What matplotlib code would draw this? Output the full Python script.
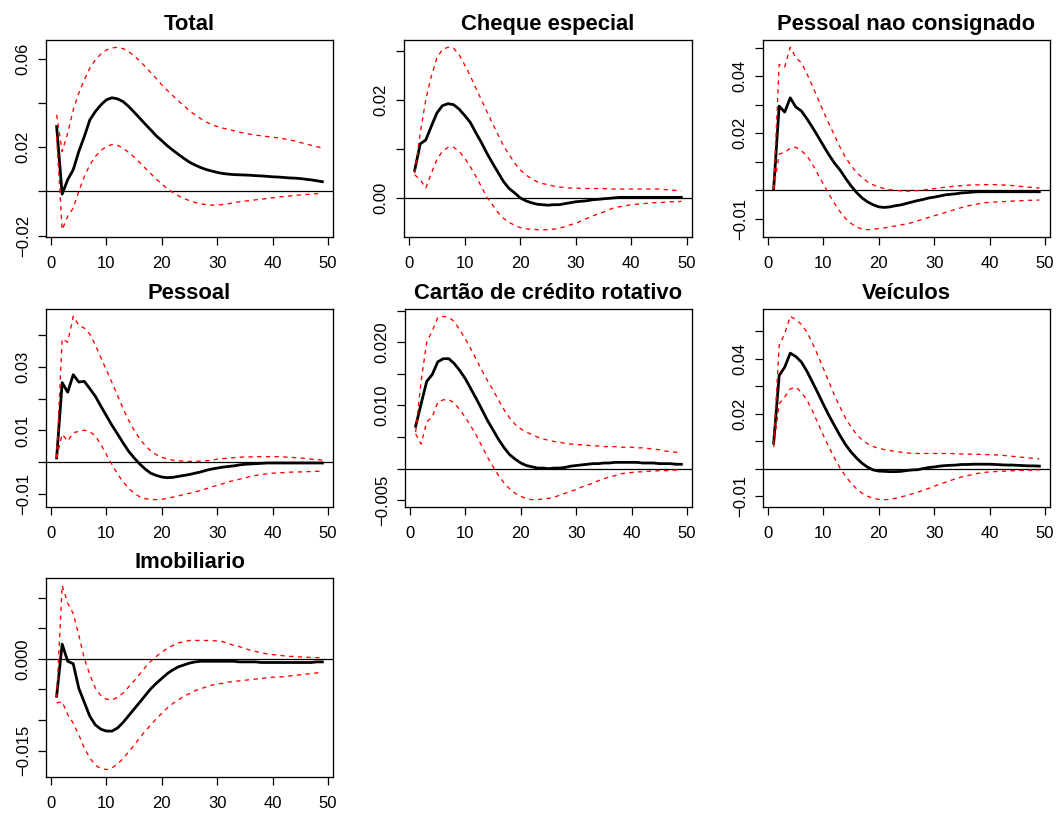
import numpy as np
import matplotlib
matplotlib.use("Agg")
import matplotlib.pyplot as plt

plt.rcParams['font.family'] = ['Liberation Sans', 'DejaVu Sans']

horizon = list(range(1, 50))

# Total
total_irf = [0.0293, -0.0012, 0.0053, 0.0098, 0.0180, 0.0248, 0.0323, 0.0361, 0.0391, 0.0414,
             0.0423, 0.0418, 0.0406, 0.0384, 0.0358, 0.0331, 0.0304, 0.0278, 0.0251, 0.0229,
             0.0206, 0.0186, 0.0167, 0.0149, 0.0132, 0.0119, 0.0108, 0.0099, 0.0092, 0.0086,
             0.0081, 0.0078, 0.0076, 0.0075, 0.0074, 0.0073, 0.0071, 0.0070, 0.0068, 0.0066,
             0.0065, 0.0063, 0.0061, 0.0060, 0.0058, 0.0055, 0.0052, 0.0048, 0.0044]
total_hi = [0.0346, 0.0180, 0.0263, 0.0368, 0.0444, 0.0504, 0.0557, 0.0594, 0.0621, 0.0639,
            0.0648, 0.0651, 0.0645, 0.0632, 0.0612, 0.0590, 0.0564, 0.0537, 0.0510, 0.0481,
            0.0456, 0.0432, 0.0409, 0.0387, 0.0364, 0.0346, 0.0329, 0.0314, 0.0302, 0.0293,
            0.0286, 0.0280, 0.0274, 0.0268, 0.0263, 0.0258, 0.0254, 0.0251, 0.0248, 0.0245,
            0.0242, 0.0238, 0.0233, 0.0228, 0.0221, 0.0215, 0.0208, 0.0202, 0.0196]
total_lo = [0.0248, -0.0173, -0.0113, -0.0075, 0.0000, 0.0068, 0.0120, 0.0158, 0.0185, 0.0203,
            0.0212, 0.0208, 0.0196, 0.0176, 0.0155, 0.0131, 0.0105, 0.0080, 0.0056, 0.0033,
            0.0012, -0.0005, -0.0020, -0.0032, -0.0042, -0.0050, -0.0056, -0.0060, -0.0062, -0.0062,
            -0.0059, -0.0056, -0.0051, -0.0047, -0.0044, -0.0041, -0.0038, -0.0035, -0.0032, -0.0029,
            -0.0026, -0.0023, -0.0021, -0.0018, -0.0016, -0.0014, -0.0012, -0.0010, -0.0009]

# Cheque especial
cheque_irf = [0.0056, 0.0110, 0.0118, 0.0146, 0.0173, 0.0188, 0.0192, 0.0190, 0.0181, 0.0168,
              0.0154, 0.0133, 0.0113, 0.0091, 0.0071, 0.0052, 0.0033, 0.0019, 0.0010, 0.0000,
              -0.0006, -0.0010, -0.0013, -0.0014, -0.0015, -0.0014, -0.0014, -0.0012, -0.0010, -0.0008,
              -0.0007, -0.0006, -0.0004, -0.0003, -0.0002, -0.0001, 0.0000, 0.0001, 0.0001, 0.0001,
              0.0001, 0.0001, 0.0001, 0.0001, 0.0001, 0.0001, 0.0001, 0.0001, 0.0001]
cheque_hi = [0.0050, 0.0132, 0.0200, 0.0248, 0.0285, 0.0303, 0.0307, 0.0305, 0.0292, 0.0271,
             0.0249, 0.0224, 0.0200, 0.0176, 0.0152, 0.0129, 0.0106, 0.0088, 0.0071, 0.0057,
             0.0047, 0.0039, 0.0033, 0.0029, 0.0027, 0.0024, 0.0022, 0.0021, 0.0020, 0.0020,
             0.0019, 0.0019, 0.0019, 0.0019, 0.0019, 0.0018, 0.0018, 0.0018, 0.0018, 0.0018,
             0.0018, 0.0018, 0.0018, 0.0018, 0.0018, 0.0017, 0.0016, 0.0015, 0.0014]
cheque_lo = [0.0047, 0.0037, 0.0020, 0.0050, 0.0078, 0.0095, 0.0103, 0.0103, 0.0095, 0.0081,
             0.0064, 0.0044, 0.0023, 0.0001, -0.0014, -0.0030, -0.0042, -0.0050, -0.0056, -0.0061,
             -0.0063, -0.0064, -0.0065, -0.0065, -0.0065, -0.0064, -0.0062, -0.0059, -0.0055, -0.0052,
             -0.0047, -0.0042, -0.0037, -0.0033, -0.0029, -0.0024, -0.0020, -0.0018, -0.0016, -0.0014,
             -0.0013, -0.0012, -0.0011, -0.0010, -0.0010, -0.0009, -0.0008, -0.0008, -0.0007]

# Pessoal nao consignado
pnc_irf = [0.0004, 0.0295, 0.0274, 0.0324, 0.0292, 0.0278, 0.0251, 0.0221, 0.0189, 0.0156,
           0.0124, 0.0095, 0.0071, 0.0042, 0.0015, -0.0008, -0.0027, -0.0041, -0.0051, -0.0058,
           -0.0060, -0.0058, -0.0054, -0.0051, -0.0046, -0.0041, -0.0036, -0.0032, -0.0027, -0.0024,
           -0.0020, -0.0016, -0.0014, -0.0012, -0.0009, -0.0008, -0.0006, -0.0005, -0.0005, -0.0005,
           -0.0005, -0.0005, -0.0005, -0.0005, -0.0005, -0.0005, -0.0005, -0.0005, -0.0005]
pnc_hi = [0.0004, 0.0441, 0.0432, 0.0501, 0.0465, 0.0447, 0.0409, 0.0366, 0.0321, 0.0276,
          0.0233, 0.0192, 0.0151, 0.0115, 0.0086, 0.0062, 0.0045, 0.0029, 0.0019, 0.0012,
          0.0006, 0.0002, 0.0000, -0.0002, -0.0003, -0.0002, -0.0001, 0.0001, 0.0004, 0.0006,
          0.0008, 0.0011, 0.0013, 0.0015, 0.0016, 0.0018, 0.0019, 0.0019, 0.0020, 0.0020,
          0.0020, 0.0019, 0.0018, 0.0017, 0.0015, 0.0013, 0.0011, 0.0010, 0.0008]
pnc_lo = [0.0004, 0.0127, 0.0133, 0.0147, 0.0151, 0.0139, 0.0121, 0.0092, 0.0056, 0.0021,
          -0.0014, -0.0046, -0.0075, -0.0099, -0.0116, -0.0129, -0.0136, -0.0138, -0.0136, -0.0134,
          -0.0132, -0.0128, -0.0125, -0.0121, -0.0118, -0.0113, -0.0107, -0.0101, -0.0095, -0.0089,
          -0.0084, -0.0078, -0.0072, -0.0066, -0.0060, -0.0055, -0.0051, -0.0047, -0.0044, -0.0042,
          -0.0041, -0.0040, -0.0039, -0.0038, -0.0037, -0.0036, -0.0035, -0.0035, -0.0034]

# Pessoal
pessoal_irf = [0.0014, 0.0250, 0.0220, 0.0275, 0.0252, 0.0254, 0.0231, 0.0207, 0.0176, 0.0146,
               0.0116, 0.0089, 0.0061, 0.0035, 0.0014, -0.0005, -0.0021, -0.0034, -0.0041, -0.0046,
               -0.0048, -0.0047, -0.0044, -0.0041, -0.0038, -0.0034, -0.0030, -0.0025, -0.0021, -0.0018,
               -0.0015, -0.0013, -0.0011, -0.0008, -0.0006, -0.0005, -0.0004, -0.0003, -0.0002, -0.0002,
               -0.0002, -0.0002, -0.0002, -0.0002, -0.0002, -0.0002, -0.0002, -0.0002, -0.0002]
pessoal_hi = [0.0014, 0.0387, 0.0377, 0.0458, 0.0430, 0.0421, 0.0402, 0.0368, 0.0328, 0.0289,
              0.0250, 0.0210, 0.0169, 0.0132, 0.0101, 0.0074, 0.0053, 0.0036, 0.0024, 0.0016,
              0.0011, 0.0007, 0.0005, 0.0004, 0.0003, 0.0003, 0.0004, 0.0005, 0.0007, 0.0010,
              0.0012, 0.0013, 0.0015, 0.0016, 0.0017, 0.0017, 0.0018, 0.0018, 0.0018, 0.0018,
              0.0018, 0.0017, 0.0016, 0.0015, 0.0014, 0.0012, 0.0010, 0.0009, 0.0007]
pessoal_lo = [0.0014, 0.0088, 0.0067, 0.0093, 0.0097, 0.0101, 0.0096, 0.0083, 0.0056, 0.0024,
              -0.0007, -0.0036, -0.0061, -0.0081, -0.0097, -0.0108, -0.0114, -0.0116, -0.0117, -0.0116,
              -0.0113, -0.0109, -0.0105, -0.0101, -0.0097, -0.0093, -0.0088, -0.0083, -0.0077, -0.0072,
              -0.0067, -0.0061, -0.0057, -0.0053, -0.0049, -0.0044, -0.0041, -0.0038, -0.0036, -0.0034,
              -0.0033, -0.0032, -0.0031, -0.0030, -0.0030, -0.0029, -0.0029, -0.0028, -0.0028]

# Cartao de credito rotativo
cartao_irf = [0.0067, 0.0103, 0.0138, 0.0149, 0.0169, 0.0174, 0.0174, 0.0166, 0.0155, 0.0142,
              0.0126, 0.0110, 0.0093, 0.0076, 0.0061, 0.0046, 0.0033, 0.0022, 0.0015, 0.0009,
              0.0005, 0.0003, 0.0001, 0.0001, 0.0000, 0.0001, 0.0001, 0.0002, 0.0004, 0.0005,
              0.0006, 0.0007, 0.0008, 0.0008, 0.0009, 0.0009, 0.0010, 0.0010, 0.0010, 0.0010,
              0.0010, 0.0009, 0.0009, 0.0009, 0.0008, 0.0008, 0.0008, 0.0007, 0.0007]
cartao_hi = [0.0058, 0.0139, 0.0200, 0.0218, 0.0239, 0.0241, 0.0239, 0.0233, 0.0219, 0.0205,
             0.0189, 0.0172, 0.0155, 0.0139, 0.0124, 0.0108, 0.0093, 0.0080, 0.0070, 0.0063,
             0.0058, 0.0054, 0.0050, 0.0047, 0.0045, 0.0043, 0.0042, 0.0040, 0.0039, 0.0038,
             0.0038, 0.0037, 0.0036, 0.0036, 0.0035, 0.0035, 0.0035, 0.0034, 0.0034, 0.0034,
             0.0033, 0.0033, 0.0032, 0.0031, 0.0030, 0.0028, 0.0027, 0.0026, 0.0025]
cartao_lo = [0.0055, 0.0039, 0.0074, 0.0082, 0.0105, 0.0109, 0.0109, 0.0104, 0.0093, 0.0081,
             0.0067, 0.0052, 0.0035, 0.0018, 0.0003, -0.0011, -0.0023, -0.0032, -0.0039, -0.0044,
             -0.0047, -0.0049, -0.0049, -0.0048, -0.0047, -0.0045, -0.0042, -0.0039, -0.0036, -0.0033,
             -0.0029, -0.0026, -0.0023, -0.0019, -0.0016, -0.0013, -0.0011, -0.0008, -0.0007, -0.0006,
             -0.0005, -0.0005, -0.0004, -0.0004, -0.0003, -0.0003, -0.0003, -0.0002, -0.0002]

# Veiculos
veic_irf = [0.0092, 0.0339, 0.0369, 0.0420, 0.0408, 0.0388, 0.0355, 0.0315, 0.0275, 0.0233,
            0.0193, 0.0156, 0.0120, 0.0087, 0.0060, 0.0038, 0.0019, 0.0005, -0.0005, -0.0009,
            -0.0010, -0.0011, -0.0011, -0.0010, -0.0007, -0.0005, -0.0004, 0.0000, 0.0004, 0.0006,
            0.0009, 0.0011, 0.0012, 0.0013, 0.0015, 0.0015, 0.0016, 0.0016, 0.0016, 0.0016,
            0.0015, 0.0014, 0.0013, 0.0013, 0.0012, 0.0011, 0.0010, 0.0010, 0.0009]
veic_hi = [0.0090, 0.0448, 0.0491, 0.0554, 0.0542, 0.0525, 0.0497, 0.0457, 0.0412, 0.0363,
           0.0315, 0.0266, 0.0224, 0.0183, 0.0151, 0.0124, 0.0104, 0.0090, 0.0080, 0.0074,
           0.0069, 0.0066, 0.0062, 0.0060, 0.0057, 0.0056, 0.0055, 0.0055, 0.0055, 0.0055,
           0.0055, 0.0055, 0.0055, 0.0054, 0.0053, 0.0053, 0.0052, 0.0052, 0.0051, 0.0051,
           0.0050, 0.0049, 0.0047, 0.0045, 0.0043, 0.0041, 0.0039, 0.0037, 0.0035]
veic_lo = [0.0078, 0.0236, 0.0260, 0.0290, 0.0296, 0.0278, 0.0250, 0.0211, 0.0165, 0.0120,
           0.0078, 0.0038, 0.0002, -0.0028, -0.0053, -0.0074, -0.0090, -0.0101, -0.0108, -0.0112,
           -0.0113, -0.0112, -0.0108, -0.0103, -0.0098, -0.0092, -0.0086, -0.0079, -0.0072, -0.0064,
           -0.0057, -0.0050, -0.0043, -0.0036, -0.0030, -0.0026, -0.0021, -0.0017, -0.0014, -0.0012,
           -0.0011, -0.0010, -0.0009, -0.0008, -0.0007, -0.0006, -0.0006, -0.0005, -0.0005]

# Imobiliario
imob_irf = [-0.0061, 0.0024, -0.0004, -0.0008, -0.0048, -0.0071, -0.0094, -0.0108, -0.0115, -0.0118,
            -0.0118, -0.0113, -0.0104, -0.0093, -0.0082, -0.0071, -0.0060, -0.0049, -0.0040, -0.0032,
            -0.0024, -0.0018, -0.0013, -0.0010, -0.0007, -0.0005, -0.0004, -0.0004, -0.0004, -0.0004,
            -0.0004, -0.0004, -0.0004, -0.0005, -0.0005, -0.0005, -0.0005, -0.0006, -0.0006, -0.0006,
            -0.0006, -0.0006, -0.0006, -0.0006, -0.0006, -0.0006, -0.0006, -0.0005, -0.0005]
imob_hi = [-0.0064, 0.0120, 0.0091, 0.0074, 0.0039, 0.0001, -0.0026, -0.0048, -0.0060, -0.0066,
           -0.0067, -0.0063, -0.0056, -0.0046, -0.0036, -0.0025, -0.0014, -0.0004, 0.0004, 0.0011,
           0.0017, 0.0022, 0.0026, 0.0028, 0.0030, 0.0030, 0.0030, 0.0030, 0.0030, 0.0029,
           0.0028, 0.0025, 0.0022, 0.0020, 0.0017, 0.0014, 0.0012, 0.0010, 0.0008, 0.0007,
           0.0006, 0.0005, 0.0004, 0.0004, 0.0003, 0.0003, 0.0002, 0.0002, 0.0002]
imob_lo = [-0.0072, -0.0070, -0.0091, -0.0105, -0.0124, -0.0146, -0.0162, -0.0174, -0.0179, -0.0181,
           -0.0178, -0.0172, -0.0163, -0.0152, -0.0141, -0.0129, -0.0118, -0.0108, -0.0098, -0.0089,
           -0.0080, -0.0073, -0.0067, -0.0061, -0.0057, -0.0052, -0.0049, -0.0046, -0.0043, -0.0041,
           -0.0040, -0.0038, -0.0037, -0.0036, -0.0035, -0.0034, -0.0033, -0.0032, -0.0031, -0.0030,
           -0.0030, -0.0029, -0.0028, -0.0027, -0.0026, -0.0025, -0.0024, -0.0023, -0.0022]

titles = ['Total', 'Cheque especial', 'Pessoal nao consignado', 'Pessoal',
          'Cartão de crédito rotativo', 'Veículos', 'Imobiliario']
series = [(total_irf, total_lo, total_hi), (cheque_irf, cheque_lo, cheque_hi),
          (pnc_irf, pnc_lo, pnc_hi), (pessoal_irf, pessoal_lo, pessoal_hi),
          (cartao_irf, cartao_lo, cartao_hi), (veic_irf, veic_lo, veic_hi),
          (imob_irf, imob_lo, imob_hi)]

M = '\u2212'
yticks = [
    ([-0.02, 0, 0.02, 0.04, 0.06], [M + '0.02', '', '0.02', '', '0.06']),
    ([0, 0.01, 0.02, 0.03], ['0.00', '', '0.02', '']),
    ([-0.01, 0, 0.01, 0.02, 0.03, 0.04, 0.05], [M + '0.01', '', '', '0.02', '', '0.04', '']),
    ([-0.01, 0, 0.01, 0.02, 0.03, 0.04], [M + '0.01', '', '0.01', '', '0.03', '']),
    ([-0.005, 0, 0.005, 0.01, 0.015, 0.02, 0.025], [M + '0.005', '', '', '0.010', '', '0.020', '']),
    ([-0.01, 0, 0.01, 0.02, 0.03, 0.04, 0.05], [M + '0.01', '', '', '0.02', '', '0.04', '']),
    ([-0.015, -0.01, -0.005, 0, 0.005, 0.01], [M + '0.015', '', '', '0.000', '', '']),
]

# plot box positions in pixels: left, right, top, bottom
W, H = 1061, 814
boxes = [(46, 333, 40, 237), (404, 692, 40, 237), (763, 1050, 40, 237),
         (46, 333, 309, 507), (405, 692, 309, 507), (763, 1050, 309, 507),
         (46, 333, 578, 777)]

fig = plt.figure(figsize=(W / 100, H / 100), dpi=100)

for i in range(7):
    l, r, t, b = boxes[i]
    ax = fig.add_axes([l / W, 1 - b / H, (r - l) / W, (b - t) / H])
    irf, lo, hi = series[i]
    ax.axhline(0, color='black', lw=0.9)
    ax.plot(horizon, irf, color='black', lw=2.0)
    ax.plot(horizon, lo, color='red', lw=0.95, dashes=(3.3, 3.3))
    ax.plot(horizon, hi, color='red', lw=0.95, dashes=(3.3, 3.3))
    ymin = min(lo + hi + irf)
    ymax = max(lo + hi + irf)
    pad = 0.04 * (ymax - ymin)
    ax.set_ylim(ymin - pad, ymax + pad)
    ax.set_xlim(1 - 0.04 * 48, 49 + 0.04 * 48)
    ax.set_xticks([0, 10, 20, 30, 40, 50])
    ax.set_yticks(yticks[i][0])
    ax.set_yticklabels(yticks[i][1], rotation=90, va='center')
    ax.tick_params(direction='out', length=6, width=0.9, labelsize=12, colors='black')
    ax.tick_params(axis='y', pad=5)
    ax.tick_params(axis='x', pad=7.5)
    for s in ax.spines.values():
        s.set_linewidth(0.95)
    ax.set_title(titles[i], fontsize=15.8, fontweight='bold', pad=7)

fig.savefig('out.png', dpi=100)
